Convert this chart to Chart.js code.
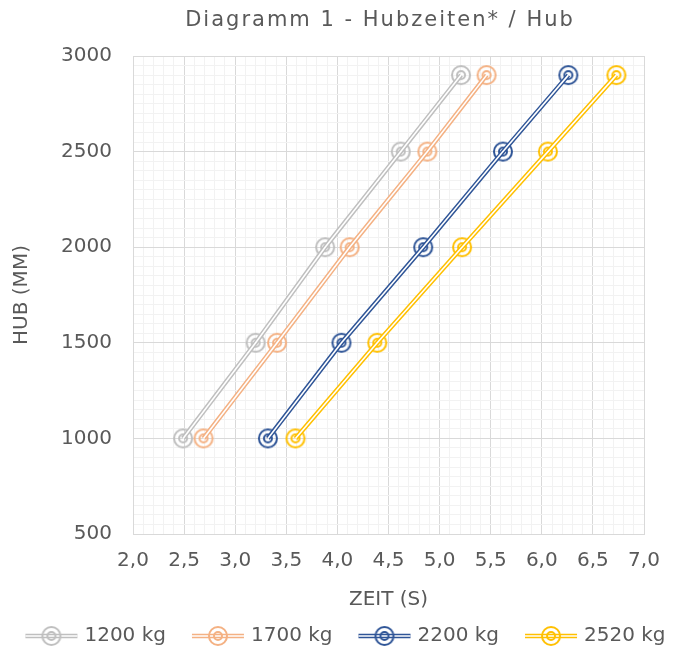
<!DOCTYPE html>
<html><head><meta charset="utf-8">
<script src="https://cdn.jsdelivr.net/npm/chart.js@4"></script>
<style>html,body{margin:0;padding:0;background:#fff}#wrap{width:675px;height:650px}</style>
</head><body><div id="wrap"><canvas id="c" width="675" height="650"></canvas></div>
<script>
// ---- data ----
const titleText = 'Diagramm 1 - Hubzeiten* / Hub';
const xAxisTitle = 'ZEIT (S)';
const yAxisTitle = 'HUB (MM)';
const seriesNames = ['1200 kg', '1700 kg', '2200 kg', '2520 kg'];
const seriesColors = ['#BFBFBF', '#F4B183', '#2F5597', '#FFC000'];
const hubValues = [1000, 1500, 2000, 2500, 2900];
const zeit1200 = [2.49, 3.20, 3.88, 4.62, 5.21];
const zeit1700 = [2.69, 3.41, 4.12, 4.88, 5.46];
const zeit2200 = [3.32, 4.04, 4.84, 5.62, 6.26];
const zeit2520 = [3.59, 4.39, 5.22, 6.06, 6.73];
const seriesZeit = [zeit1200, zeit1700, zeit2200, zeit2520];
const xMin = 2, xMax = 7, xMajor = 0.5, xMinor = 0.1;
const yMin = 500, yMax = 3000, yMajor = 500, yMinor = 50;

const FONT = '"DejaVu Sans", sans-serif';
const TEXT = '#595959';

function makeMarker(color) {
  const c = document.createElement('canvas');
  c.width = 22; c.height = 22;
  const g = c.getContext('2d');
  g.strokeStyle = color; g.lineWidth = 2;
  g.beginPath(); g.arc(11, 11, 9, 0, Math.PI * 2); g.stroke();
  g.beginPath(); g.arc(11, 11, 4, 0, Math.PI * 2); g.stroke();
  return c;
}
const markers = seriesColors.map(makeMarker);

const datasets = [];
seriesNames.forEach((name, i) => {
  const pts = hubValues.map((h, k) => ({x: seriesZeit[i][k], y: h}));
  datasets.push({
    label: name, data: pts, borderColor: seriesColors[i], backgroundColor: 'transparent',
    borderWidth: 4.6, pointStyle: markers[i], pointRadius: 9, pointHoverRadius: 9,
    order: 20 - 2 * i, tension: 0
  });
  datasets.push({
    label: '', data: pts, borderColor: '#FFFFFF', borderWidth: 1.6,
    pointRadius: 0, pointHoverRadius: 0, order: 19 - 2 * i, tension: 0, isInner: true
  });
});

function stepTicks(min, max, step) {
  const n = Math.round((max - min) / step);
  const out = [];
  for (let k = 0; k <= n; k++) out.push({value: +(min + k * step).toFixed(6)});
  return out;
}
function isMajor(v, min, major) {
  const r = (v - min) / major;
  return Math.abs(r - Math.round(r)) < 1e-6;
}

const titlePlugin = {
  id: 'customTitle',
  afterDraw(chart) {
    const ctx = chart.ctx;
    ctx.save();
    ctx.font = '21px ' + FONT;
    ctx.fillStyle = TEXT;
    ctx.textAlign = 'center';
    ctx.textBaseline = 'middle';
    try { ctx.letterSpacing = '2px'; } catch (e) {}
    ctx.fillText(titleText, 380, 21);
    ctx.restore();
  }
};

const legendPlugin = {
  id: 'customLegend',
  afterDraw(chart) {
    const ctx = chart.ctx;
    ctx.save();
    ctx.font = '20px ' + FONT;
    const iconW = 52, gap = 7, itemGap = 26;
    const widths = seriesNames.map(s => ctx.measureText(s).width);
    const total = widths.reduce((a, b) => a + b, 0) + seriesNames.length * (iconW + gap) + (seriesNames.length - 1) * itemGap;
    let x = 345.5 - total / 2;
    const y = 636;
    seriesNames.forEach((name, i) => {
      ctx.strokeStyle = seriesColors[i];
      ctx.lineWidth = 4.6;
      ctx.beginPath(); ctx.moveTo(x, y); ctx.lineTo(x + iconW, y); ctx.stroke();
      ctx.strokeStyle = '#FFFFFF';
      ctx.lineWidth = 1.6;
      ctx.beginPath(); ctx.moveTo(x, y); ctx.lineTo(x + iconW, y); ctx.stroke();
      ctx.drawImage(markers[i], x + iconW / 2 - 11, y - 11);
      ctx.fillStyle = TEXT;
      ctx.textAlign = 'left';
      ctx.textBaseline = 'middle';
      ctx.fillText(name, x + iconW + gap, y);
      x += iconW + gap + widths[i] + itemGap;
    });
    ctx.restore();
  }
};

new Chart(document.getElementById('c'), {
  type: 'line',
  data: {datasets},
  options: {
    responsive: false,
    animation: false,
    events: [],
    layout: {padding: {top: 56, right: 31, left: 0, bottom: 0}},
    plugins: {legend: {display: false}, title: {display: false}, tooltip: {enabled: false}},
    scales: {
      x: {
        type: 'linear', min: xMin, max: xMax,
        afterBuildTicks(s) { s.ticks = stepTicks(xMin, xMax, xMinor); },
        afterFit(s) { s.height = 116; },
        grid: {
          drawTicks: false,
          color: c => isMajor(c.tick.value, xMin, xMajor) ? '#D9D9D9' : '#F2F2F2',
          lineWidth: 1
        },
        border: {display: true, color: '#D9D9D9', width: 1},
        ticks: {
          autoSkip: false, maxRotation: 0, padding: 15, color: TEXT,
          font: {family: FONT, size: 20},
          callback: v => isMajor(v, xMin, xMajor) ? v.toFixed(1).replace('.', ',') : ''
        },
        title: {display: true, text: xAxisTitle, color: TEXT, font: {family: FONT, size: 20}, padding: {top: 0, bottom: 38}}
      },
      y: {
        type: 'linear', min: yMin, max: yMax,
        afterBuildTicks(s) { s.ticks = stepTicks(yMin, yMax, yMinor); },
        afterFit(s) { s.width = 133; },
        grid: {
          drawTicks: false,
          color: c => isMajor(c.tick.value, yMin, yMajor) ? '#D9D9D9' : '#F2F2F2',
          lineWidth: 1
        },
        border: {display: true, color: '#D9D9D9', width: 1},
        ticks: {
          autoSkip: false, padding: 21, color: TEXT,
          font: {family: FONT, size: 20},
          callback: v => isMajor(v, yMin, yMajor) ? String(v) : ''
        },
        title: {display: true, text: yAxisTitle, color: TEXT, font: {family: FONT, size: 20}, padding: {top: 10, bottom: 0}}
      }
    }
  },
  plugins: [titlePlugin, legendPlugin]
});
</script>
</body></html>
